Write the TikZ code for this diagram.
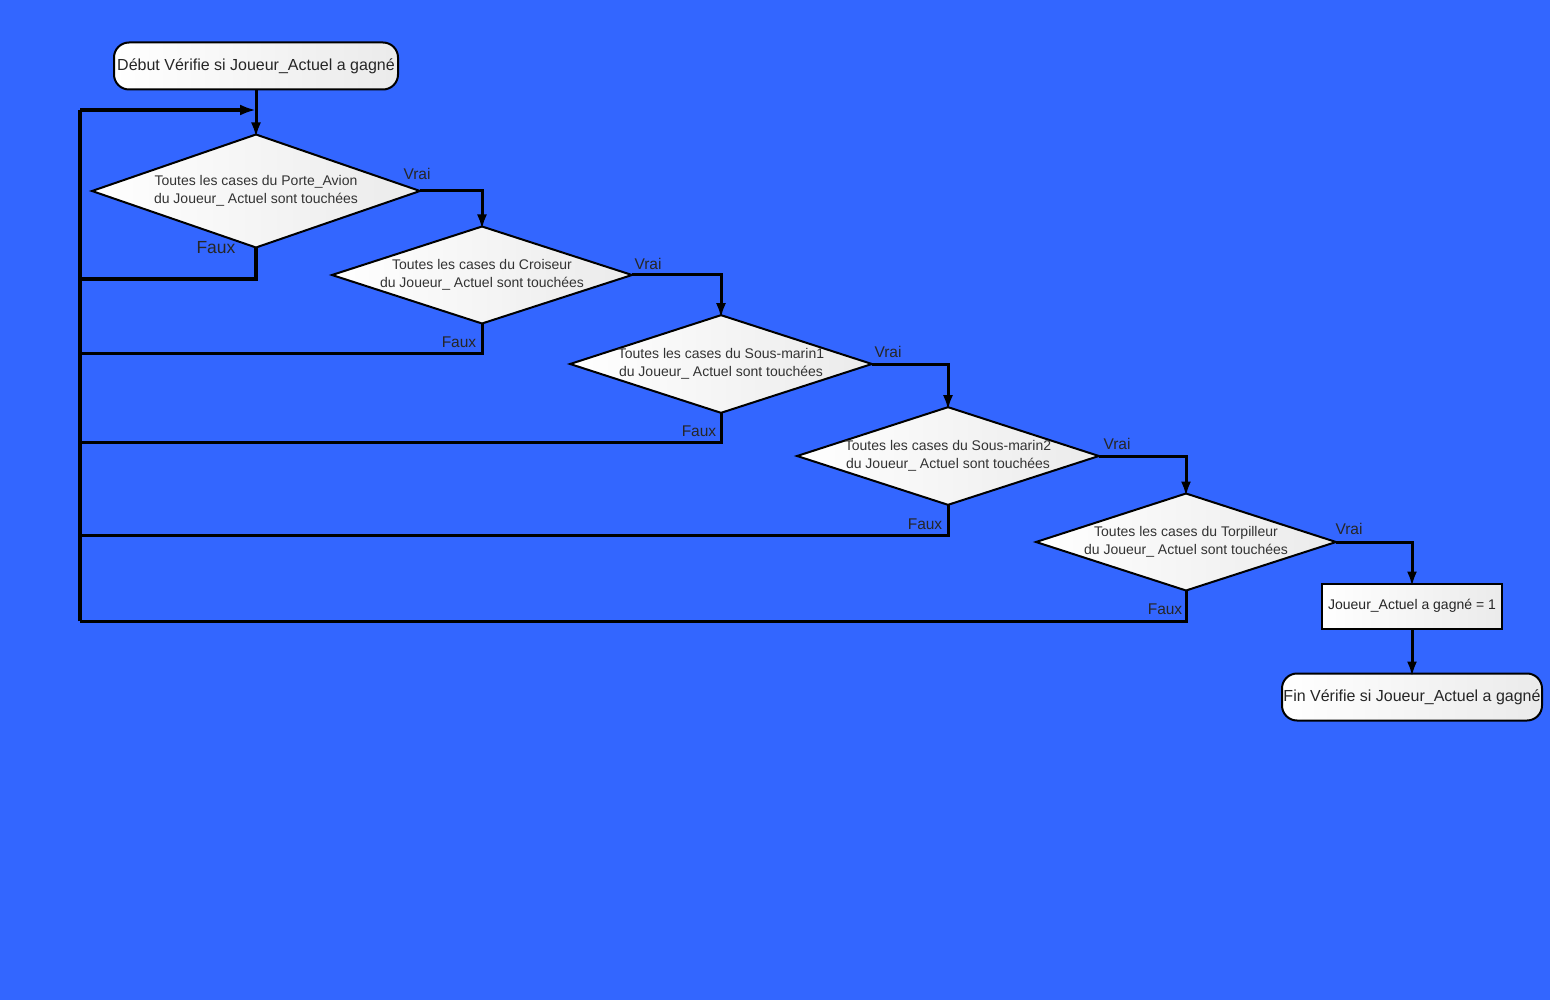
\documentclass[tikz,border=0pt]{standalone}
\usepackage{fontspec}
\setmainfont{Liberation Sans}
\usetikzlibrary{shapes.geometric,arrows.meta,positioning,calc}
\definecolor{fond}{RGB}{51,102,255}
\tikzset{
  test/.style={diamond, draw, line width=2pt, left color=white, right color=black!8,
    inner sep=0pt, outer sep=0pt, aspect=3.09, minimum width=300pt, minimum height=97pt,
    align=center, font=\fontsize{14}{18}\selectfont, text=black!80},
  borne/.style={rectangle, rounded corners=15pt, draw, line width=2pt, left color=white,
    right color=black!8, minimum height=47pt, inner sep=0pt, outer sep=0pt,
    font=\fontsize{16}{18}\selectfont, text=black!85},
  action/.style={rectangle, draw, line width=2pt, left color=white, right color=black!8,
    minimum width=180pt, minimum height=45pt, inner sep=0pt, outer sep=0pt,
    font=\fontsize{14}{16}\selectfont, text=black!85},
  fleche/.style={line width=3pt, shorten >=-3pt, -{Latex[length=15pt,width=10pt]}},
  lien/.style={line width=3pt},
  lbl/.style={inner sep=0pt, font=\fontsize{15.5}{16}\selectfont, text=black!85}
}
\begin{document}
\begin{tikzpicture}[x=1pt,y=-1pt]
\useasboundingbox (0,0) rectangle (1550,1000);
\fill[fond] (0,0) rectangle (1550,1000);

% noeuds
\node[borne, minimum width=284pt] (debut) at (256,66) {Début Vérifie si Joueur\_Actuel a gagné};
\node[test, aspect=2.9, minimum width=328pt, minimum height=113pt] (d1) at (256,191)
    {Toutes les cases du Porte\_Avion\\du Joueur\_ Actuel sont touchées};
\node[test] (d2) at (482,275) {Toutes les cases du Croiseur\\du Joueur\_ Actuel sont touchées};
\node[test] (d3) at (721,364) {Toutes les cases du Sous-marin1\\du Joueur\_ Actuel sont touchées};
\node[test] (d4) at (948,456) {Toutes les cases du Sous-marin2\\du Joueur\_ Actuel sont touchées};
\node[test] (d5) at (1186,542) {Toutes les cases du Torpilleur\\du Joueur\_ Actuel sont touchées};
\node[action] (gagne) at (1412,606) {Joueur\_Actuel a gagné = 1};
\node[borne, minimum width=260pt] (fin) at (1412,697) {Fin Vérifie si Joueur\_Actuel a gagné};

% points de retour
\coordinate (entree) at (256,110);
\coordinate (haut) at (80,110);
\coordinate (r1) at (80,279);
\coordinate (r2) at (80,353);
\coordinate (r3) at (80,442);
\coordinate (r4) at (80,535);
\coordinate (r5) at (80,621);

% liens
\draw[fleche] (debut.south) -- (d1.north);
\draw[fleche] (d1.east) -| (d2.north);
\draw[fleche] (d2.east) -| (d3.north);
\draw[fleche] (d3.east) -| (d4.north);
\draw[fleche] (d4.east) -| (d5.north);
\draw[fleche] (d5.east) -| (gagne.north);
\draw[fleche] (gagne.south) -- (fin.north);

\draw[lien, line width=3.5pt] (d1.south) |- (r1);
\draw[lien] (d2.south) |- (r2);
\draw[lien] (d3.south) |- (r3);
\draw[lien] (d4.south) |- (r4);
\draw[lien] (d5.south) |- (r5);
\draw[line width=4.5pt] (r5) -- (haut);
\draw[line width=4.5pt, -{Latex[length=16pt,width=11pt]}] (haut) -- (entree);

% etiquettes
\node[lbl] (v1) at (417,174) {Vrai};
\node[lbl, font=\fontsize{17.5}{18}\selectfont] (f1) at (216,248) {Faux};
\node[lbl] (v2) at (648,264) {Vrai};
\node[lbl] (f2) at (459,342) {Faux};
\node[lbl] (v3) at (888,352) {Vrai};
\node[lbl] (f3) at (699,431) {Faux};
\node[lbl] (v4) at (1117,444) {Vrai};
\node[lbl] (f4) at (925,524) {Faux};
\node[lbl] (v5) at (1349,529) {Vrai};
\node[lbl] (f5) at (1165,609) {Faux};
\end{tikzpicture}
\end{document}
